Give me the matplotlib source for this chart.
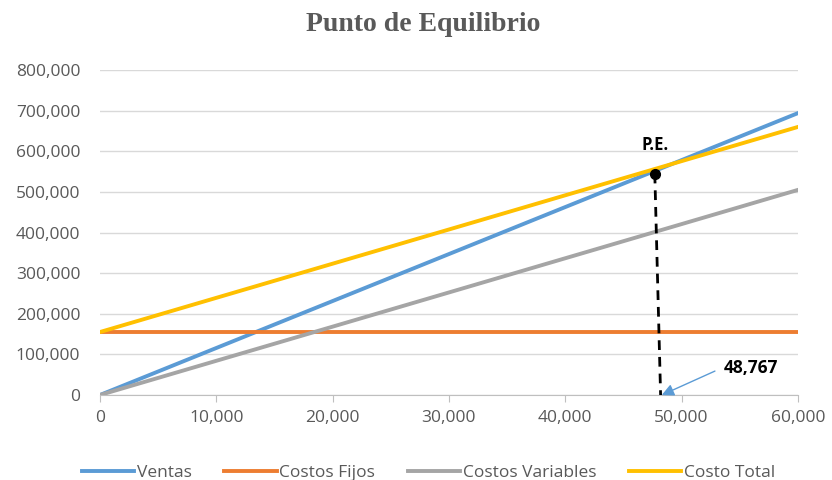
import matplotlib.pyplot as plt
from matplotlib.ticker import FuncFormatter

# Datos (unidades vs. importe)
unidades = [0, 10000, 20000, 30000, 40000, 50000, 60000]
ventas = [0, 115700, 231300, 347000, 462700, 578300, 694000]
costos_fijos = [155000, 155000, 155000, 155000, 155000, 155000, 155000]
costos_variables = [0, 84200, 168300, 252500, 336700, 420800, 505000]
costo_total = [155000, 239200, 323300, 407500, 491700, 575800, 660000]

pe_x = [47700, 48200]
pe_y = [545000, 0]
pe_valor = 48767

gris = '#595959'
fuente = 'Open Sans'

fig = plt.figure(figsize=(8.32, 4.8), dpi=100)
ax = fig.add_axes([0.12, 0.177, 0.839, 0.677])

ax.plot(unidades, ventas, color='#5B9BD5', lw=2.8, label='Ventas')
ax.plot(unidades, costos_fijos, color='#ED7D31', lw=2.8, label='Costos Fijos')
ax.plot(unidades, costos_variables, color='#A5A5A5', lw=2.8, label='Costos Variables')
ax.plot(unidades, costo_total, color='#FFC000', lw=2.8, label='Costo Total')

# punto de equilibrio
ax.plot(pe_x, pe_y, color='black', lw=2, ls=(0, (3.5, 2.5)), zorder=5)
ax.plot(pe_x[0], pe_y[0], 'o', color='black', ms=7, zorder=6)
ax.text(pe_x[0], pe_y[0] + 48000, 'P.E.', ha='center', va='bottom',
        fontsize=12, fontweight='bold', family=fuente)
ax.text(55960, 66500, f'{pe_valor:,}', ha='center', va='center',
        fontsize=12.5, fontweight='bold', family=fuente)
ax.annotate('', xy=(pe_x[1] + 100, 0), xytext=(52870, 59000),
            arrowprops=dict(arrowstyle='-|>', color='#5B9BD5', lw=1, mutation_scale=18,
                            shrinkA=0, shrinkB=0))

ax.set_xlim(0, 60000)
ax.set_ylim(0, 800000)
ax.set_xticks(unidades)
ax.set_yticks(range(0, 800001, 100000))
fmt = FuncFormatter(lambda v, p: f'{int(v):,}')
ax.xaxis.set_major_formatter(fmt)
ax.yaxis.set_major_formatter(fmt)
ax.tick_params(axis='y', length=0, colors=gris, labelsize=12.5, pad=14)
ax.tick_params(axis='x', length=5, color='#BFBFBF', colors=gris, labelsize=12.5, pad=6)
for lab in ax.get_xticklabels() + ax.get_yticklabels():
    lab.set_family(fuente)

ax.grid(axis='y', color='#D9D9D9', lw=1)
ax.set_axisbelow(True)
for s in ['top', 'right', 'left']:
    ax.spines[s].set_visible(False)
ax.spines['bottom'].set_color('#BFBFBF')

fig.suptitle('Punto de Equilibrio', x=0.509, y=0.975, fontsize=20, fontweight='bold',
             color=gris, family='Liberation Serif')

leg = fig.legend(loc='lower center', bbox_to_anchor=(0.515, -0.035), ncol=4, frameon=False,
                 prop={'family': fuente, 'size': 12.5}, handlelength=3.0,
                 handletextpad=0.15, columnspacing=1.9)
for t in leg.get_texts():
    t.set_color(gris)

fig.savefig('out.png', dpi=100)
